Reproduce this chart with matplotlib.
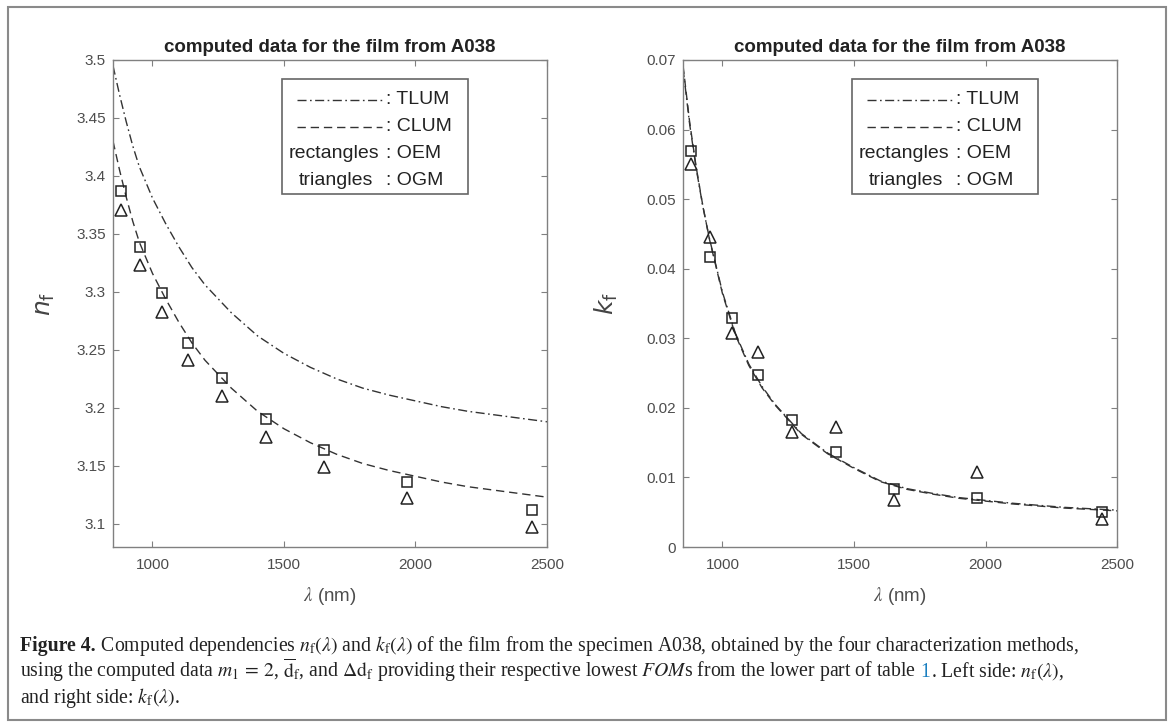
import numpy as np
import matplotlib
matplotlib.use('Agg')
import matplotlib.pyplot as plt
from matplotlib.patches import Rectangle
from matplotlib.ticker import FormatStrFormatter

plt.rcParams['font.family'] = ['Liberation Sans', 'DejaVu Sans']

# ---- data ----
# wavelengths of the OEM (squares) / OGM (triangles) points, nm
wl_pts = [882, 954, 1037, 1134, 1265, 1430, 1653, 1969, 2443]
n_oem = [3.387, 3.339, 3.299, 3.256, 3.226, 3.190, 3.164, 3.136, 3.112]
n_ogm = [3.371, 3.323, 3.283, 3.241, 3.210, 3.175, 3.149, 3.122, 3.097]
k_oem = [0.0569, 0.0417, 0.0329, 0.0247, 0.0183, 0.0137, 0.0083, 0.0070, 0.0050]
k_ogm = [0.0551, 0.0446, 0.0308, 0.0281, 0.0165, 0.0172, 0.0068, 0.0108, 0.0040]

# TLUM / CLUM curves
wl_line = [850, 875, 900, 925, 950, 1000, 1050, 1100, 1150, 1200, 1300, 1400,
           1500, 1600, 1700, 1800, 1900, 2000, 2100, 2200, 2300, 2400, 2500]
n_tlum = [3.495, 3.470, 3.447, 3.426, 3.408, 3.381, 3.359, 3.339, 3.321, 3.306,
          3.282, 3.262, 3.247, 3.235, 3.225, 3.217, 3.211, 3.206, 3.201, 3.197,
          3.194, 3.191, 3.188]
n_clum = [3.430, 3.405, 3.382, 3.361, 3.343, 3.316, 3.294, 3.274, 3.256, 3.241,
          3.217, 3.197, 3.182, 3.170, 3.160, 3.152, 3.146, 3.141, 3.136, 3.132,
          3.129, 3.126, 3.123]
k_tlum = [0.0688, 0.0608, 0.0544, 0.0490, 0.0444, 0.0366, 0.0306, 0.0263, 0.0231,
          0.0205, 0.0163, 0.0135, 0.0114, 0.0095, 0.0084, 0.0077, 0.0071, 0.0067,
          0.0063, 0.0060, 0.0057, 0.0055, 0.0053]
k_clum = [0.0692, 0.0611, 0.0546, 0.0491, 0.0443, 0.0364, 0.0304, 0.0261, 0.0229,
          0.0204, 0.0162, 0.0134, 0.0113, 0.0094, 0.0083, 0.0076, 0.0070, 0.0066,
          0.0062, 0.0059, 0.0056, 0.0054, 0.0052]

wl_ticks = [1000, 1500, 2000, 2500]
n_ticks = [3.1, 3.15, 3.2, 3.25, 3.3, 3.35, 3.4, 3.45, 3.5]
k_ticks = [0, 0.01, 0.02, 0.03, 0.04, 0.05, 0.06, 0.07]

title = "computed data for the film from A038"
leg_names = [": TLUM", ": CLUM", ": OEM", ": OGM"]

# ---- styling ----
GRID = '#808080'
TXT = '#222222'
LINE = '#333333'
TLUM_DASH = (6.5, 2.5, 1.2, 2.5)
CLUM_DASH = (6.0, 3.5)


def legend_box(ax):
    ax.add_patch(Rectangle((0.39, 0.725), 0.428, 0.235, transform=ax.transAxes,
                           fc='white', ec='#666666', lw=1.2, zorder=5))
    rows = [0.918, 0.863, 0.808, 0.753]
    xc = 0.628
    ax.plot([0.425, 0.62], [rows[0]] * 2, transform=ax.transAxes, color=LINE,
            lw=1.0, dashes=TLUM_DASH, zorder=6)
    ax.plot([0.425, 0.62], [rows[1]] * 2, transform=ax.transAxes, color=LINE,
            lw=1.0, dashes=CLUM_DASH, zorder=6)
    ax.text(0.405, rows[2], "rectangles", transform=ax.transAxes, fontsize=14,
            color=TXT, va='center', zorder=6)
    ax.text(0.428, rows[3], "triangles", transform=ax.transAxes, fontsize=14,
            color=TXT, va='center', zorder=6)
    for r, s in zip(rows, leg_names):
        ax.text(xc, r, s, transform=ax.transAxes, fontsize=14, color=TXT,
                va='center', zorder=6)


def panel(ax, y_tlum, y_clum, y_oem, y_ogm, yticks, ylim, ylab):
    ax.plot(wl_line, y_tlum, color=LINE, lw=1.0, dashes=TLUM_DASH)
    ax.plot(wl_line, y_clum, color=LINE, lw=1.0, dashes=CLUM_DASH)
    ax.plot(wl_pts, y_oem, 's', ms=6.8, mfc='none', mec=TXT, mew=1.1)
    ax.plot(wl_pts, y_ogm, '^', ms=8.5, mfc='none', mec=TXT, mew=1.1)
    ax.set_xlim(850, 2500)
    ax.set_ylim(*ylim)
    ax.set_xticks(wl_ticks)
    ax.set_yticks(yticks)
    ax.yaxis.set_major_formatter(FormatStrFormatter('%g'))
    ax.tick_params(direction='in', top=True, right=True, length=4, width=0.8,
                   color=GRID, labelcolor='#4d4d4d', labelsize=11)
    ax.tick_params(axis='x', pad=8)
    ax.tick_params(axis='y', pad=5)
    for sp in ax.spines.values():
        sp.set_color(GRID)
        sp.set_linewidth(1.0)
    ax.set_title(title, fontsize=13.5, fontweight='bold', color=TXT, pad=6)
    ax.set_xlabel(r"$\lambda$ (nm)", fontsize=13.5, color='#4d4d4d', labelpad=9,
                  math_fontfamily='stix')
    ax.set_ylabel(ylab, fontsize=18, color='#444444', math_fontfamily='dejavusans')
    legend_box(ax)


fig = plt.figure(figsize=(11.71, 7.28), dpi=100)
ax1 = fig.add_axes([0.0965, 0.2486, 0.3706, 0.669])
ax2 = fig.add_axes([0.5833, 0.2486, 0.3706, 0.669])

panel(ax1, n_tlum, n_clum, n_oem, n_ogm, n_ticks, (3.08, 3.5), r"$n_\mathrm{f}$")
panel(ax2, k_tlum, k_clum, k_oem, k_ogm, k_ticks, (0, 0.07), r"$k_\mathrm{f}$")
ax1.yaxis.set_label_coords(-0.128, 0.5)
ax2.yaxis.set_label_coords(-0.145, 0.5)

# outer frame of the figure
fig.patches.append(Rectangle((0.0068, 0.011), 0.989, 0.979, transform=fig.transFigure,
                             fill=False, ec='#8a8a8a', lw=1.5))

# ---- caption ----
cap_lines = [
    [("Figure 4.", dict(fontweight='bold')),
     (r" Computed dependencies $n_\mathrm{f}(\lambda)$ and $k_\mathrm{f}(\lambda)$ of the film from the specimen A038, obtained by the four characterization methods,", {})],
    [(r"using the computed data $m_1\,=\,2$, $\overline{\mathrm{d}}_\mathrm{f}$, and $\Delta\mathrm{d}_\mathrm{f}$ providing their respective lowest $\mathit{FOM}$s from the lower part of table", {}),
     (" 1", dict(color='#1a7fc0')),
     (r". Left side: $n_\mathrm{f}(\lambda)$,", {})],
    [(r"and right side: $k_\mathrm{f}(\lambda)$.", {})],
]
cap_y = [651, 677, 703]   # baselines, px from top
cap_size = 14.2

fig.canvas.draw()
rend = fig.canvas.get_renderer()
for parts, yp in zip(cap_lines, cap_y):
    x = 20 / 1171
    for s, kw in parts:
        kw = dict(kw)
        col = kw.pop('color', TXT)
        t = fig.text(x, 1 - yp / 728, s, fontsize=cap_size, color=col,
                     family=['Liberation Serif', 'DejaVu Serif'],
                     math_fontfamily='stix', va='baseline', **kw)
        x += t.get_window_extent(renderer=rend).width / fig.bbox.width

fig.savefig('out.png', dpi=100, facecolor='white')
